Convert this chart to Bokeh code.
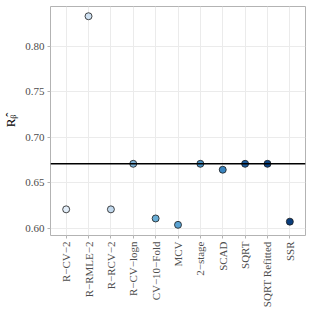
import math
from bokeh.plotting import figure
from bokeh.models import FactorRange, Range1d, Span, FixedTicker, ColumnDataSource, CustomJSTickFormatter
from bokeh.embed import file_html
from bokeh.resources import INLINE

methods = ["R\u2212CV\u22122", "R\u2212RMLE\u22122", "R\u2212RCV\u22122", "R\u2212CV\u2212logn",
           "CV\u221210\u2212Fold", "MCV", "2\u2212stage", "SCAD", "SQRT", "SQRT Refitted", "SSR"]
r_beta = [0.621, 0.833, 0.621, 0.671, 0.611, 0.604, 0.671, 0.6645, 0.671, 0.671, 0.6075]
reference_value = 0.671
y_ticks = [0.60, 0.65, 0.70, 0.75, 0.80]
y_label = "R\u1d66\u0302"

fill_colors = ["#e3eef9", "#d0e2f3", "#c2d9ee", "#7fb3d9", "#6aaed6", "#5aa2d2",
               "#4a93c6", "#3a85c0", "#1c5c9e", "#0d4585", "#0a3d7c"]

FONT = "Liberation Serif"
GRID = "#ebebeb"
BORDER = "#b3b3b3"
TXT = "#4d4d4d"

src = ColumnDataSource(dict(method=methods, r=r_beta, color=fill_colors))

p = figure(width=310, height=310, output_backend="svg", toolbar_location=None,
           x_range=FactorRange(factors=methods, range_padding=0.2, range_padding_units="absolute"),
           y_range=Range1d(0.5923, 0.8437),
           min_border_left=49, min_border_right=5, min_border_top=6, min_border_bottom=74)

p.outline_line_color = BORDER
p.outline_line_width = 1
p.background_fill_color = "white"
p.border_fill_color = "white"

p.xgrid.grid_line_color = GRID
p.ygrid.grid_line_color = GRID
p.xgrid.grid_line_width = 1
p.ygrid.grid_line_width = 1

p.yaxis.ticker = FixedTicker(ticks=y_ticks)
p.yaxis.formatter = CustomJSTickFormatter(code="return tick.toFixed(2);")

for ax in (p.xaxis[0], p.yaxis[0]):
    ax.axis_line_color = None
    ax.major_tick_line_color = BORDER
    ax.major_tick_out = 3
    ax.major_tick_in = 0
    ax.minor_tick_line_color = None
    ax.major_label_text_font = FONT
    ax.major_label_text_font_size = "11px"
    ax.major_label_text_color = TXT
    ax.major_label_standoff = 3

p.xaxis.major_label_orientation = math.pi / 2

p.yaxis.axis_label = y_label
p.yaxis.axis_label_text_font = FONT
p.yaxis.axis_label_text_font_size = "13px"
p.yaxis.axis_label_text_font_style = "normal"
p.yaxis.axis_label_text_color = "black"
p.yaxis.axis_label_standoff = 4

span = Span(location=reference_value, dimension="width", line_color="black", line_width=1.5)
p.add_layout(span)

p.scatter("method", "r", source=src, size=7, fill_color="color", line_color="#1a1a1a", line_width=0.8)

open("out.html", "w").write(file_html(p, INLINE))
